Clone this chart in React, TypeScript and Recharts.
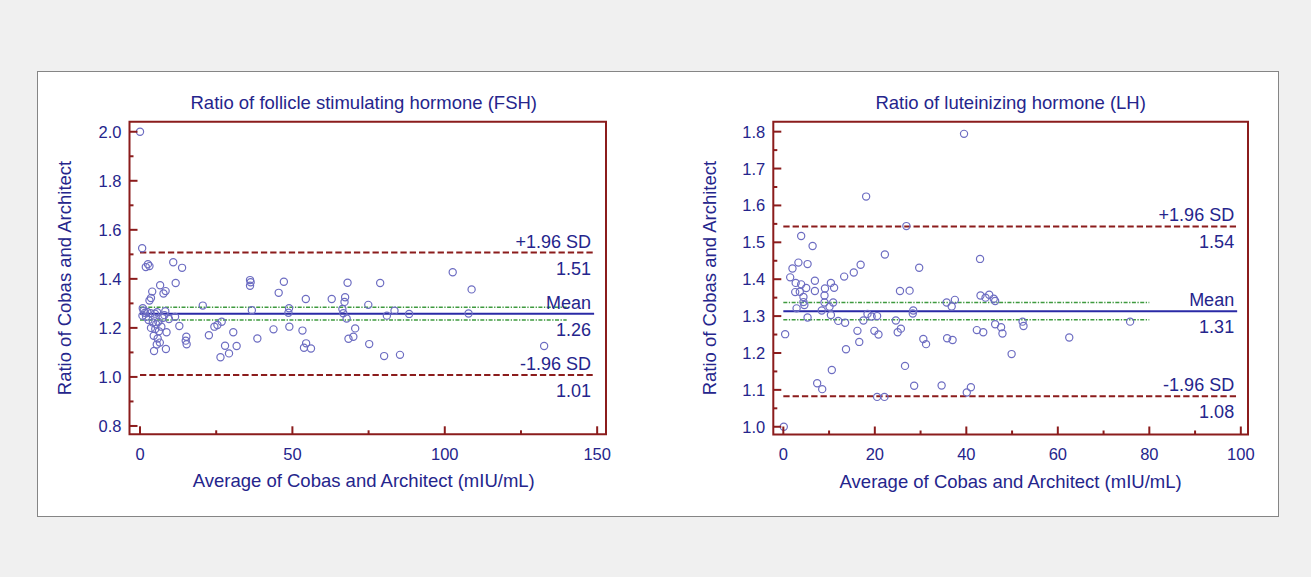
import React from 'react';
import { ScatterChart, Scatter, XAxis, YAxis, ReferenceLine, ReferenceArea } from 'recharts';

const FONT = '"Liberation Sans", Arial, sans-serif';
const NAVY = '#25258c';
const FRAME = '#8b1c1c';
const POINT = '#6d6dc2';
const MEAN_BLUE = '#2a2aa6';
const GREEN = '#3f9a3f';

const X_LABEL = 'Average of Cobas and Architect (mIU/mL)';
const Y_LABEL = 'Ratio of Cobas and Architect';

// FSH panel
const FSH_X = [
  0, 0.7, 1.9, 2.6, 3.1, 10.9, 13.8, 6.6, 11.7, 4.0, 3.6, 3.1, 7.7, 8.4, 0.9, 1.2, 1.6, 2.4, 0.8, 2.0,
  3.5, 4.9, 5.6, 7.4, 8.3, 8.0, 9.5, 11.5, 2.8, 4.2, 5.3, 6.0, 3.6, 5.0, 6.2, 7.0, 8.7, 4.5, 5.8, 6.5,
  5.5, 4.6, 8.5, 12.9, 15.2, 15.0, 15.3, 20.6, 22.6, 24.4, 25.4, 26.8, 26.4, 27.9, 29.2, 30.6, 31.7, 36.1, 36.3, 36.1,
  36.7, 38.5, 43.8, 45.5, 47.2, 48.9, 48.7, 49.0, 53.3, 53.8, 54.5, 56.1, 54.4, 62.9, 67.3, 67.1, 68.1, 66.4, 66.7, 67.8,
  68.4, 70.0, 70.6, 74.9, 75.2, 78.8, 80.1, 81.0, 83.5, 85.3, 88.3, 102.6, 107.8, 108.8, 132.6,
];
const FSH_Y = [
  2.0, 1.525, 1.448, 1.46, 1.452, 1.468, 1.445, 1.374, 1.383, 1.348, 1.322, 1.312, 1.34, 1.35, 1.28, 1.27, 1.262, 1.265, 1.25, 1.245,
  1.26, 1.258, 1.264, 1.24, 1.268, 1.252, 1.236, 1.245, 1.232, 1.222, 1.215, 1.225, 1.2, 1.195, 1.186, 1.205, 1.182, 1.168, 1.157, 1.14,
  1.132, 1.106, 1.114, 1.208, 1.164, 1.148, 1.133, 1.291, 1.17, 1.205, 1.212, 1.225, 1.08, 1.127, 1.096, 1.182, 1.126, 1.395, 1.386, 1.372,
  1.272, 1.157, 1.194, 1.343, 1.388, 1.28, 1.262, 1.205, 1.189, 1.119, 1.137, 1.116, 1.318, 1.318, 1.325, 1.306, 1.384, 1.277, 1.26, 1.238,
  1.156, 1.164, 1.198, 1.294, 1.134, 1.383, 1.085, 1.25, 1.27, 1.09, 1.257, 1.427, 1.259, 1.357, 1.126,
];
const FSH_X_TICKS = [0, 25, 50, 75, 100, 125, 150];
const FSH_Y_TICKS = [0.8, 0.9, 1.0, 1.1, 1.2, 1.3, 1.4, 1.5, 1.6, 1.7, 1.8, 1.9, 2.0];
const FSH_LIMITS = [1.507, 1.258, 1.008]; // +1.96 SD, mean, -1.96 SD
const FSH_MEAN_CI = [1.232, 1.284];

// LH panel
const LH_X = [
  0.1, 0.4, 1.5, 2.0, 2.7, 3.3, 2.6, 2.9, 3.6, 3.9, 3.9, 4.4, 4.4, 4.6, 5.0, 5.3, 5.3, 6.4, 6.9, 6.9,
  7.4, 8.4, 8.5, 9.0, 9.1, 9.0, 10.1, 10.4, 10.4, 10.6, 11.1, 10.9, 12.0, 13.3, 13.5, 13.7, 15.4, 16.2, 16.6, 16.9,
  17.5, 18.1, 18.4, 19.3, 19.9, 20.5, 20.8, 20.5, 22.1, 22.2, 24.6, 25.0, 25.5, 25.7, 26.6, 26.9, 27.6, 28.3, 28.4, 28.6,
  29.7, 30.6, 31.2, 34.6, 35.7, 35.8, 36.8, 37.0, 37.5, 39.5, 40.1, 41.0, 42.3, 43.0, 43.1, 43.7, 44.2, 45.0, 46.0, 46.3,
  46.3, 47.6, 47.9, 49.9, 52.3, 52.5, 62.5, 75.8,
];
const LH_Y = [
  1.0, 1.251, 1.405, 1.429, 1.39, 1.445, 1.365, 1.321, 1.366, 1.386, 1.517, 1.352, 1.338, 1.33, 1.376, 1.441, 1.296, 1.49, 1.396, 1.368,
  1.118, 1.315, 1.102, 1.356, 1.375, 1.337, 1.325, 1.39, 1.303, 1.154, 1.377, 1.337, 1.287, 1.407, 1.282, 1.21, 1.418, 1.26, 1.23, 1.439,
  1.288, 1.624, 1.306, 1.299, 1.26, 1.3, 1.25, 1.081, 1.081, 1.467, 1.288, 1.256, 1.368, 1.266, 1.165, 1.544, 1.369, 1.307, 1.315, 1.111,
  1.431, 1.238, 1.224, 1.112, 1.337, 1.24, 1.326, 1.235, 1.344, 1.794, 1.093, 1.107, 1.262, 1.455, 1.356, 1.256, 1.35, 1.358, 1.347, 1.341,
  1.278, 1.27, 1.253, 1.197, 1.285, 1.273, 1.242, 1.285,
];
const LH_X_TICKS = [0, 10, 20, 30, 40, 50, 60, 70, 80, 90, 100];
const LH_Y_TICKS = [1.0, 1.05, 1.1, 1.15, 1.2, 1.25, 1.3, 1.35, 1.4, 1.45, 1.5, 1.55, 1.6, 1.65, 1.7, 1.75, 1.8];
const LH_LIMITS = [1.543, 1.313, 1.083];
const LH_MEAN_CI = [1.29, 1.337];

const CHART_H = 520;
const Y_AXIS_W = 60;
const X_AXIS_H = 40;

const isMultiple = (v: number, step: number) => Math.abs(v / step - Math.round(v / step)) < 1e-6;

const makeYTick = (step: number) => (props: any) => {
  const { x, y, payload } = props;
  const major = isMultiple(payload.value, step);
  return (
    <g>
      <line x1={x} y1={y} x2={x + (major ? 8 : 4)} y2={y} stroke={FRAME} strokeWidth={2} />
      {major && (
        <text x={x - 8} y={y + 6} textAnchor="end" fill={NAVY} fontSize={16.5} fontFamily={FONT}>
          {payload.value.toFixed(1)}
        </text>
      )}
    </g>
  );
};

const makeXTick = (step: number) => (props: any) => {
  const { x, y, payload } = props;
  const major = isMultiple(payload.value, step);
  return (
    <g>
      <line x1={x} y1={y} x2={x} y2={y - (major ? 8 : 4)} stroke={FRAME} strokeWidth={2} />
      {major && (
        <text x={x} y={y + 25.5} textAnchor="middle" fill={NAVY} fontSize={16.5} fontFamily={FONT}>
          {payload.value}
        </text>
      )}
    </g>
  );
};

// text above and below the right end of a limit line
const lineLabel = (above: string, below: string) => (props: any) => {
  const { viewBox } = props;
  const xr = viewBox.x + viewBox.width - 3;
  return (
    <g fontFamily={FONT} fontSize={18} fill={NAVY}>
      <text x={xr} y={viewBox.y - 5} textAnchor="end">{above}</text>
      <text x={xr} y={viewBox.y + 22} textAnchor="end">{below}</text>
    </g>
  );
};

const ring = (p: any) => (
  <circle cx={p.cx} cy={p.cy} r={3.6} fill="none" stroke={POINT} strokeWidth={1.2} />
);

function RatioPlot(props: any) {
  const {
    left, width, margin, title, shift, xs, ys, xDomain, yDomain, xTicks, yTicks,
    xStep, yStep, limits, ci, lineEnd, ciEnd, yLabelOffset,
  } = props;
  const data = xs.map((x: number, i: number) => ({ x, y: ys[i] }));
  const [upper, mean, lower] = limits;
  const plotWidth = width - margin.left - Y_AXIS_W - margin.right;

  return (
    <div style={{ position: 'absolute', left, top: 0, width, height: CHART_H }}>
      <div
        style={{
          position: 'absolute',
          left: margin.left + Y_AXIS_W + shift,
          width: plotWidth,
          top: 93,
          textAlign: 'center',
          fontSize: 18.5,
          lineHeight: '20px',
          color: NAVY,
          fontFamily: FONT,
          whiteSpace: 'nowrap',
        }}
      >
        {title}
      </div>
      <ScatterChart width={width} height={CHART_H} margin={margin}>
        <XAxis
          type="number"
          dataKey="x"
          domain={xDomain}
          allowDataOverflow
          ticks={xTicks}
          interval={0}
          tickSize={0}
          tickMargin={0}
          axisLine={false}
          tickLine={false}
          height={X_AXIS_H}
          tick={makeXTick(xStep)}
          label={{ value: X_LABEL, position: 'bottom', offset: 0, dx: shift, fill: NAVY, fontSize: 18.5, fontFamily: FONT }}
        />
        <YAxis
          type="number"
          dataKey="y"
          domain={yDomain}
          allowDataOverflow
          ticks={yTicks}
          interval={0}
          tickSize={0}
          tickMargin={0}
          axisLine={false}
          tickLine={false}
          width={Y_AXIS_W}
          tick={makeYTick(yStep)}
          label={{
            value: Y_LABEL,
            angle: -90,
            position: 'insideLeft',
            offset: yLabelOffset,
            fill: NAVY,
            fontSize: 18.5,
            fontFamily: FONT,
            style: { textAnchor: 'middle' },
          }}
        />
        <ReferenceArea
          x1={xDomain[0]}
          x2={xDomain[1]}
          y1={yDomain[0]}
          y2={yDomain[1]}
          fill="none"
          stroke={FRAME}
          strokeWidth={2}
          ifOverflow="visible"
        />
        {ci.map((v: number) => (
          <ReferenceLine
            key={v}
            segment={[{ x: 0, y: v }, { x: ciEnd, y: v }]}
            stroke={GREEN}
            strokeWidth={1.5}
            strokeDasharray="4 1.5 1.3 1.5"
          />
        ))}
        <ReferenceLine
          segment={[{ x: 0, y: upper }, { x: lineEnd, y: upper }]}
          stroke={FRAME}
          strokeWidth={2}
          strokeDasharray="6.3 3"
          label={lineLabel('+1.96 SD', upper.toFixed(2))}
        />
        <ReferenceLine
          segment={[{ x: 0, y: mean }, { x: lineEnd, y: mean }]}
          stroke={MEAN_BLUE}
          strokeWidth={2}
          label={lineLabel('Mean', mean.toFixed(2))}
        />
        <ReferenceLine
          segment={[{ x: 0, y: lower }, { x: lineEnd, y: lower }]}
          stroke={FRAME}
          strokeWidth={2}
          strokeDasharray="6.3 3"
          label={lineLabel('-1.96 SD', lower.toFixed(2))}
        />
        <Scatter data={data} shape={ring} isAnimationActive={false} />
      </ScatterChart>
    </div>
  );
}

export default function App() {
  return (
    <div style={{ position: 'absolute', left: 0, top: 0, width: 1311, height: 577, background: '#f0f0f0', overflow: 'hidden' }}>
      <div
        style={{
          position: 'absolute',
          left: 37,
          top: 71,
          width: 1242,
          height: 446,
          boxSizing: 'border-box',
          background: '#fff',
          border: '1px solid #858585',
        }}
      />
      <RatioPlot
        left={0}
        width={650}
        margin={{ top: 121.7, right: 44, bottom: 45.7, left: 69.5 }}
        title="Ratio of follicle stimulating hormone (FSH)"
        shift={-4}
        xs={FSH_X}
        ys={FSH_Y}
        xDomain={[-3.45, 152.9]}
        yDomain={[0.766, 2.041]}
        xTicks={FSH_X_TICKS}
        yTicks={FSH_Y_TICKS}
        xStep={50}
        yStep={0.2}
        limits={FSH_LIMITS}
        ci={FSH_MEAN_CI}
        lineEnd={149}
        ciEnd={140}
        yLabelOffset={-4.8}
      />
      <RatioPlot
        left={660}
        width={651}
        margin={{ top: 121.7, right: 63, bottom: 45.5, left: 53.3 }}
        title="Ratio of luteinizing hormone (LH)"
        shift={0}
        xs={LH_X}
        ys={LH_Y}
        xDomain={[-2.19, 101.57]}
        yDomain={[0.979, 1.827]}
        xTicks={LH_X_TICKS}
        yTicks={LH_Y_TICKS}
        xStep={20}
        yStep={0.1}
        limits={LH_LIMITS}
        ci={LH_MEAN_CI}
        lineEnd={99.2}
        ciEnd={80}
        yLabelOffset={-3.6}
      />
    </div>
  );
}
